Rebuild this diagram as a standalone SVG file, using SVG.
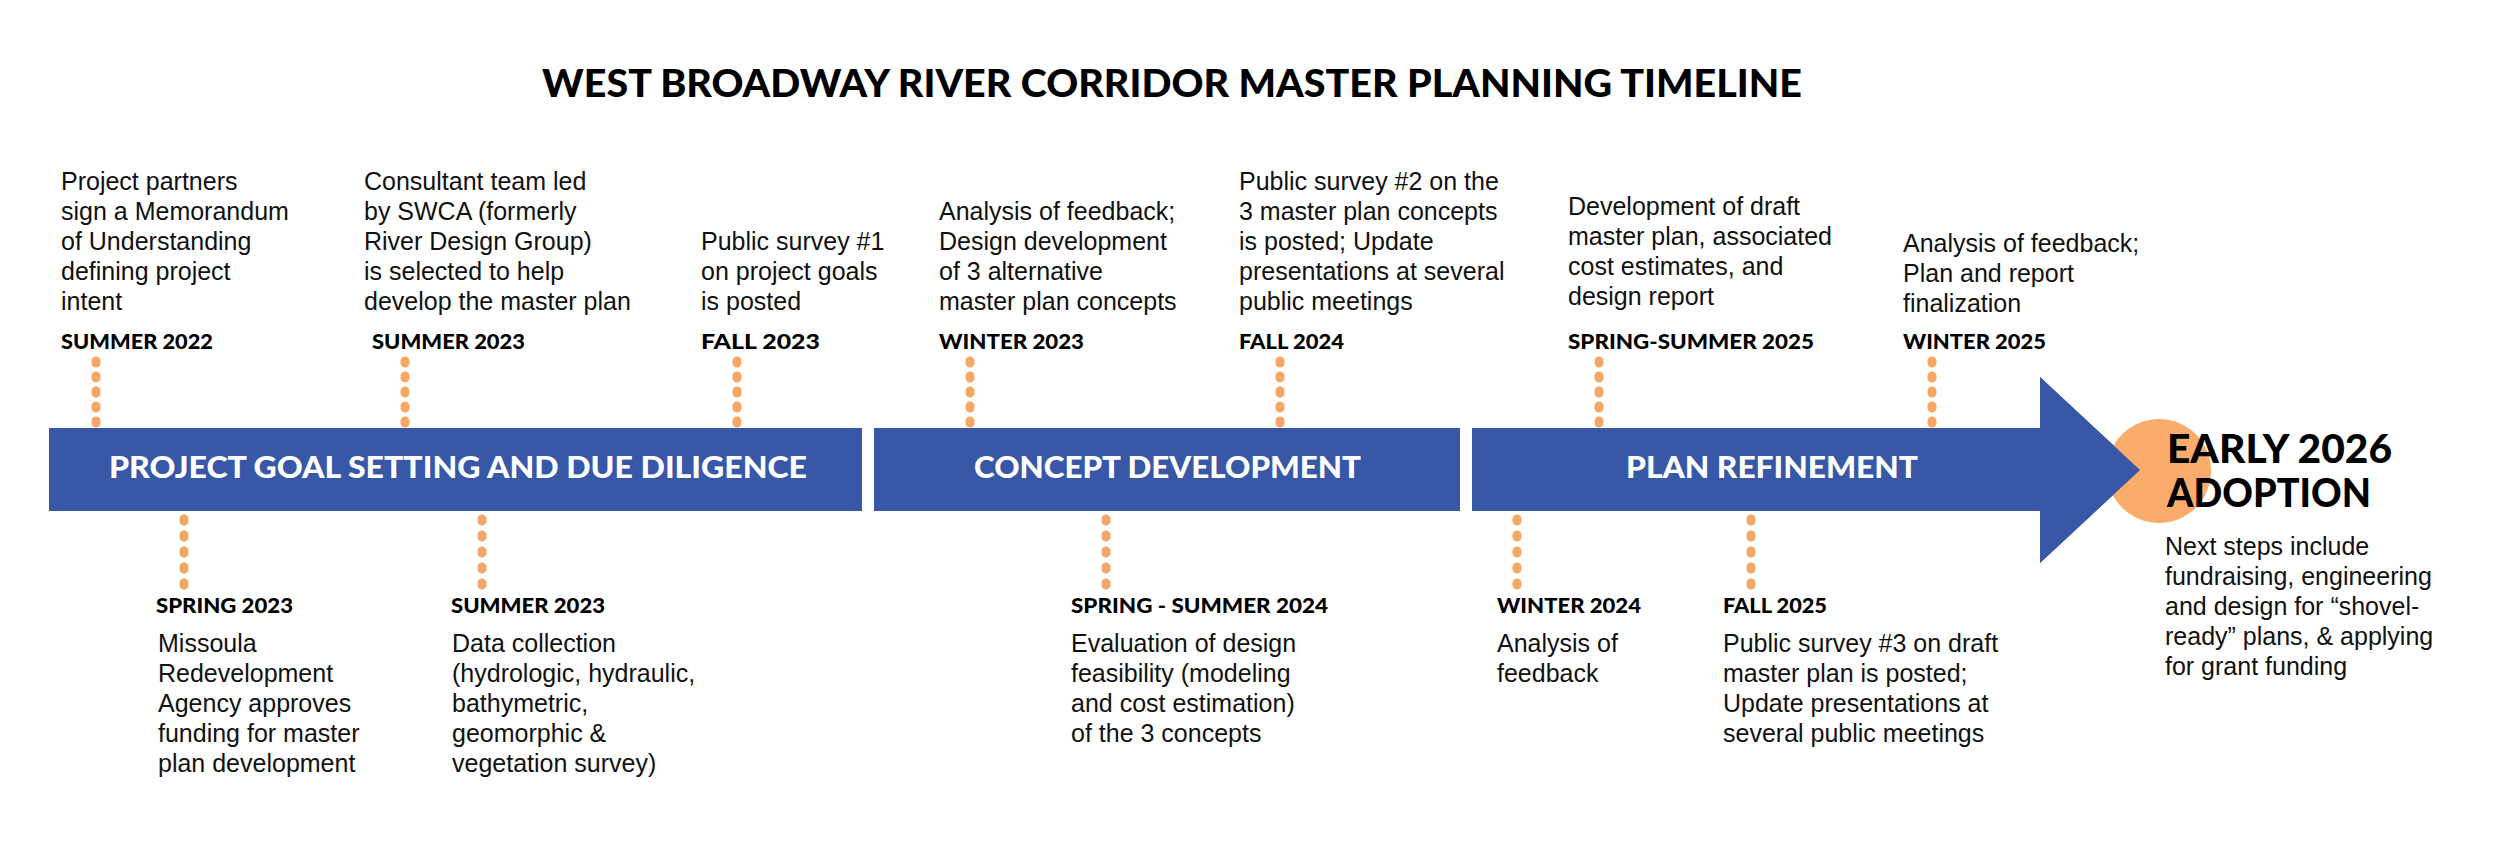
<svg xmlns="http://www.w3.org/2000/svg" width="2500" height="850" viewBox="0 0 2500 850">
<style>
.title{font-family:Lato,"Liberation Sans",Arial,sans-serif;font-weight:900;font-size:37px;fill:#000}
.date{font-family:Lato,"Liberation Sans",Arial,sans-serif;font-weight:900;font-size:21px;fill:#000}
.body{font-family:"Liberation Sans",Arial,sans-serif;font-size:25px;fill:#111}
.band{fill:#3857A6}
.bandtxt{font-family:Lato,"Liberation Sans",Arial,sans-serif;font-weight:900;font-size:31px;fill:#fff}
.big{font-family:Lato,"Liberation Sans",Arial,sans-serif;font-weight:900;font-size:40px;fill:#000}
.dots{stroke:#F7A763;stroke-width:9;stroke-linecap:round;fill:none}
.top{stroke-dasharray:2 13}
.bot{stroke-dasharray:2 14}
</style>
<rect width="2500" height="850" fill="#fff"/>
<text class="title" x="542" y="97" textLength="1260" lengthAdjust="spacingAndGlyphs">WEST BROADWAY RIVER CORRIDOR MASTER PLANNING TIMELINE</text>

<g id="phase-1">
<rect class="band" x="49" y="428" width="813" height="83"/>
<text class="bandtxt" x="109" y="478" textLength="698" lengthAdjust="spacingAndGlyphs">PROJECT GOAL SETTING AND DUE DILIGENCE</text>
</g>
<g id="phase-2">
<rect class="band" x="874" y="428" width="586" height="83"/>
<text class="bandtxt" x="974" y="478" textLength="387" lengthAdjust="spacingAndGlyphs">CONCEPT DEVELOPMENT</text>
</g>
<g id="phase-3">
<polygon class="band" points="1472,428 2040,428 2040,377 2140,470 2040,563 2040,511 1472,511"/>
<text class="bandtxt" x="1626" y="478" textLength="292" lengthAdjust="spacingAndGlyphs">PLAN REFINEMENT</text>
</g>

<g id="connectors">
<line class="dots top" x1="96" y1="361" x2="96" y2="424"/>
<line class="dots top" x1="405" y1="361" x2="405" y2="424"/>
<line class="dots top" x1="737" y1="361" x2="737" y2="424"/>
<line class="dots top" x1="970" y1="361" x2="970" y2="424"/>
<line class="dots top" x1="1280" y1="361" x2="1280" y2="424"/>
<line class="dots top" x1="1599" y1="361" x2="1599" y2="424"/>
<line class="dots top" x1="1932" y1="361" x2="1932" y2="424"/>
<line class="dots bot" x1="184" y1="519" x2="184" y2="586"/>
<line class="dots bot" x1="482" y1="519" x2="482" y2="586"/>
<line class="dots bot" x1="1106" y1="519" x2="1106" y2="586"/>
<line class="dots bot" x1="1517" y1="519" x2="1517" y2="586"/>
<line class="dots bot" x1="1751" y1="519" x2="1751" y2="586"/>
</g>

<g id="ev-summer-2022">
<text class="body" x="61"><tspan x="61" y="190">Project partners</tspan><tspan x="61" y="220">sign a Memorandum</tspan><tspan x="61" y="250">of Understanding</tspan><tspan x="61" y="280">defining project</tspan><tspan x="61" y="310">intent</tspan></text>
<text class="date" x="61" y="349" textLength="152" lengthAdjust="spacingAndGlyphs">SUMMER 2022</text>
</g>
<g id="ev-summer-2023-top">
<text class="body"><tspan x="364" y="190">Consultant team led</tspan><tspan x="364" y="220">by SWCA (formerly</tspan><tspan x="364" y="250">River Design Group)</tspan><tspan x="364" y="280">is selected to help</tspan><tspan x="364" y="310">develop the master plan</tspan></text>
<text class="date" x="372" y="349" textLength="153" lengthAdjust="spacingAndGlyphs">SUMMER 2023</text>
</g>
<g id="ev-fall-2023">
<text class="body"><tspan x="701" y="250">Public survey #1</tspan><tspan x="701" y="280">on project goals</tspan><tspan x="701" y="310">is posted</tspan></text>
<text class="date" x="701" y="349" textLength="119" lengthAdjust="spacingAndGlyphs">FALL 2023</text>
</g>
<g id="ev-winter-2023">
<text class="body"><tspan x="939" y="220">Analysis of feedback;</tspan><tspan x="939" y="250">Design development</tspan><tspan x="939" y="280">of 3 alternative</tspan><tspan x="939" y="310">master plan concepts</tspan></text>
<text class="date" x="939" y="349" textLength="145" lengthAdjust="spacingAndGlyphs">WINTER 2023</text>
</g>
<g id="ev-fall-2024">
<text class="body"><tspan x="1239" y="190">Public survey #2 on the</tspan><tspan x="1239" y="220">3 master plan concepts</tspan><tspan x="1239" y="250">is posted; Update</tspan><tspan x="1239" y="280">presentations at several</tspan><tspan x="1239" y="310">public meetings</tspan></text>
<text class="date" x="1239" y="349" textLength="105" lengthAdjust="spacingAndGlyphs">FALL 2024</text>
</g>
<g id="ev-spring-summer-2025">
<text class="body"><tspan x="1568" y="215">Development of draft</tspan><tspan x="1568" y="245">master plan, associated</tspan><tspan x="1568" y="275">cost estimates, and</tspan><tspan x="1568" y="305">design report</tspan></text>
<text class="date" x="1568" y="349" textLength="246" lengthAdjust="spacingAndGlyphs">SPRING-SUMMER 2025</text>
</g>
<g id="ev-winter-2025">
<text class="body"><tspan x="1903" y="252">Analysis of feedback;</tspan><tspan x="1903" y="282">Plan and report</tspan><tspan x="1903" y="312">finalization</tspan></text>
<text class="date" x="1903" y="349" textLength="143" lengthAdjust="spacingAndGlyphs">WINTER 2025</text>
</g>

<g id="ev-spring-2023">
<text class="date" x="156" y="613" textLength="137" lengthAdjust="spacingAndGlyphs">SPRING 2023</text>
<text class="body"><tspan x="158" y="652">Missoula</tspan><tspan x="158" y="682">Redevelopment</tspan><tspan x="158" y="712">Agency approves</tspan><tspan x="158" y="742">funding for master</tspan><tspan x="158" y="772">plan development</tspan></text>
</g>
<g id="ev-summer-2023-bottom">
<text class="date" x="451" y="613" textLength="154" lengthAdjust="spacingAndGlyphs">SUMMER 2023</text>
<text class="body"><tspan x="452" y="652">Data collection</tspan><tspan x="452" y="682">(hydrologic, hydraulic,</tspan><tspan x="452" y="712">bathymetric,</tspan><tspan x="452" y="742">geomorphic &amp;</tspan><tspan x="452" y="772">vegetation survey)</tspan></text>
</g>
<g id="ev-spring-summer-2024">
<text class="date" x="1071" y="613" textLength="257" lengthAdjust="spacingAndGlyphs">SPRING - SUMMER 2024</text>
<text class="body"><tspan x="1071" y="652">Evaluation of design</tspan><tspan x="1071" y="682">feasibility (modeling</tspan><tspan x="1071" y="712">and cost estimation)</tspan><tspan x="1071" y="742">of the 3 concepts</tspan></text>
</g>
<g id="ev-winter-2024">
<text class="date" x="1497" y="613" textLength="144" lengthAdjust="spacingAndGlyphs">WINTER 2024</text>
<text class="body"><tspan x="1497" y="652">Analysis of</tspan><tspan x="1497" y="682">feedback</tspan></text>
</g>
<g id="ev-fall-2025">
<text class="date" x="1723" y="613" textLength="104" lengthAdjust="spacingAndGlyphs">FALL 2025</text>
<text class="body"><tspan x="1723" y="652">Public survey #3 on draft</tspan><tspan x="1723" y="682">master plan is posted;</tspan><tspan x="1723" y="712">Update presentations at</tspan><tspan x="1723" y="742">several public meetings</tspan></text>
</g>

<g id="adoption">
<circle cx="2159" cy="471" r="52" fill="#F9AC6B"/>
<polygon class="band" points="2040,377 2140,470 2040,563"/>
<text class="big" x="2167" y="463" textLength="225" lengthAdjust="spacingAndGlyphs">EARLY 2026</text>
<text class="big" x="2167" y="507" textLength="204" lengthAdjust="spacingAndGlyphs">ADOPTION</text>
<text class="body"><tspan x="2165" y="555">Next steps include</tspan><tspan x="2165" y="585">fundraising, engineering</tspan><tspan x="2165" y="615">and design for “shovel-</tspan><tspan x="2165" y="645">ready” plans, &amp; applying</tspan><tspan x="2165" y="675">for grant funding</tspan></text>
</g>
</svg>
